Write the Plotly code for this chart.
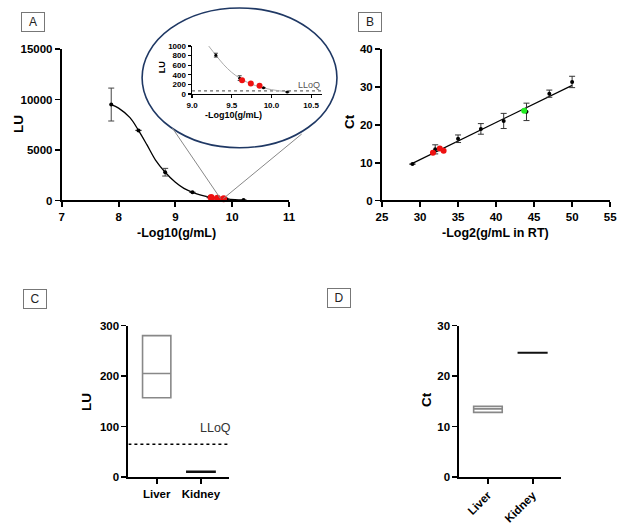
import plotly.graph_objects as go

W, H = 624, 528
FONT = "Arial, Liberation Sans, sans-serif"

# ---------------- Data ----------------
# Panel A main (-Log10 conc vs LU)
a_x = [7.87, 8.35, 8.82, 9.30, 9.60, 9.90, 10.20]
a_y = [9500, 6940, 2800, 810, 330, 130, 40]
a_err_plus = [1630, 0, 380, 0, 50, 0, 0]
a_err_minus = [1630, 0, 380, 0, 50, 0, 0]
a_red_x = [9.63, 9.74, 9.85]
a_red_y = [286, 218, 170]
# fitted curve
a_curve_x = [7.87, 8.0, 8.2, 8.35, 8.5, 8.65, 8.82, 9.0, 9.15, 9.3, 9.45, 9.6, 9.75, 9.9, 10.05, 10.2]
a_curve_y = [9500, 9150, 8200, 6940, 5500, 4000, 2800, 1800, 1200, 810, 520, 330, 215, 135, 80, 45]

# Inset
in_curve_x = [9.21, 9.3, 9.4, 9.5, 9.6, 9.7, 9.8, 9.9, 10.0, 10.1, 10.2]
in_curve_y = [1000, 810, 610, 450, 330, 240, 175, 125, 90, 65, 50]
lloq_lu = 65

# Panel B (-Log2 conc vs Ct)
b_x = [29.0, 32.0, 35.0, 38.0, 41.0, 44.0, 47.0, 50.0]
b_y = [9.6, 13.5, 16.3, 18.9, 21.0, 23.4, 28.2, 31.3]
b_err = [0, 1.2, 1.0, 1.4, 2.0, 2.3, 0.95, 1.5]
b_red_x = [31.7, 32.6, 33.1]
b_red_y = [12.6, 13.7, 13.1]
b_green_x = [43.7]
b_green_y = [23.7]
b_fit_x = [29.0, 50.0]
b_fit_y = [9.8, 30.4]

# Panels C / D
organs = ["Liver", "Kidney"]
c_q1 = [157, 9.5]
c_med = [205, 10.5]
c_q3 = [280, 11.5]
d_q1 = [12.8, 24.55]
d_med = [13.5, 24.6]
d_q3 = [14.0, 24.65]

# ---------------- helpers ----------------
def xd(p0, p1):
    return [p0 / W, p1 / W]

def yd(top, bottom):
    return [1 - bottom / H, 1 - top / H]

def px(x):
    return x / W

def py(y):
    return 1 - y / H

axis_common = dict(showline=True, linecolor="black", linewidth=2, ticks="outside",
                   ticklen=5, tickwidth=1.8, tickcolor="black", showgrid=False,
                   zeroline=False, fixedrange=True, tickformat="d",
                   tickfont=dict(family=FONT, size=11.5, color="black", weight="bold"))

fig = go.Figure()

# ---- Panel A main ----
fig.add_trace(go.Scatter(x=a_curve_x, y=a_curve_y, mode="lines", line=dict(color="black", width=1.3, shape="spline"),
                         xaxis="x", yaxis="y", hoverinfo="skip", cliponaxis=False))
fig.add_trace(go.Scatter(x=a_x, y=a_y, mode="markers", marker=dict(color="black", size=4),
                         error_y=dict(type="data", array=a_err_plus, arrayminus=a_err_minus, color="#444",
                                      thickness=1, width=3),
                         xaxis="x", yaxis="y", cliponaxis=False))
fig.add_trace(go.Scatter(x=a_red_x, y=a_red_y, mode="markers", marker=dict(color="#ee1111", size=7),
                         xaxis="x", yaxis="y", cliponaxis=False))

# ---- Inset ----
fig.add_trace(go.Scatter(x=[9.0, 10.64], y=[lloq_lu, lloq_lu], mode="lines",
                         line=dict(color="#666", width=1.2, dash="dot"), xaxis="x5", yaxis="y5"))
fig.add_trace(go.Scatter(x=in_curve_x, y=in_curve_y, mode="lines", line=dict(color="#aaaaaa", width=1, shape="spline"),
                         xaxis="x5", yaxis="y5", cliponaxis=False))
fig.add_trace(go.Scatter(x=a_x[3:], y=a_y[3:], mode="markers", marker=dict(color="black", size=3),
                         error_y=dict(type="data", array=[40, 50, 0, 0], color="#444", thickness=1, width=2),
                         xaxis="x5", yaxis="y5", cliponaxis=False))
fig.add_trace(go.Scatter(x=a_red_x, y=a_red_y, mode="markers", marker=dict(color="#ee1111", size=6),
                         xaxis="x5", yaxis="y5", cliponaxis=False))

# ---- Panel B ----
fig.add_trace(go.Scatter(x=b_fit_x, y=b_fit_y, mode="lines", line=dict(color="black", width=1.2),
                         xaxis="x2", yaxis="y2"))
fig.add_trace(go.Scatter(x=b_x, y=b_y, mode="markers", marker=dict(color="black", size=4),
                         error_y=dict(type="data", array=b_err, color="#333", thickness=1, width=3),
                         xaxis="x2", yaxis="y2", cliponaxis=False))
fig.add_trace(go.Scatter(x=b_red_x, y=b_red_y, mode="markers", marker=dict(color="#ee1111", size=6),
                         xaxis="x2", yaxis="y2", cliponaxis=False))
fig.add_trace(go.Scatter(x=b_green_x, y=b_green_y, mode="markers", marker=dict(color="#22ee22", size=6),
                         xaxis="x2", yaxis="y2", cliponaxis=False))

# ---- Panel C ----
c_colors = ["#888888", "#111111"]
c_lw = [1.6, 1.5]
for i in range(2):
    fig.add_trace(go.Box(x=[i], q1=[c_q1[i]], median=[c_med[i]], q3=[c_q3[i]],
                         lowerfence=[c_q1[i]], upperfence=[c_q3[i]], width=0.64, whiskerwidth=0,
                         line=dict(color=c_colors[i], width=c_lw[i]), fillcolor="rgba(0,0,0,0)",
                         boxpoints=False, xaxis="x3", yaxis="y3", hoverinfo="skip"))
fig.add_trace(go.Scatter(x=[-0.64, 1.64], y=[lloq_lu, lloq_lu], mode="lines",
                         line=dict(color="black", width=1.5, dash="dot"), xaxis="x3", yaxis="y3"))

# ---- Panel D ----
for i in range(2):
    fig.add_trace(go.Box(x=[i], q1=[d_q1[i]], median=[d_med[i]], q3=[d_q3[i]],
                         lowerfence=[d_q1[i]], upperfence=[d_q3[i]], width=0.64, whiskerwidth=0,
                         line=dict(color=c_colors[i], width=c_lw[i]), fillcolor="rgba(0,0,0,0)",
                         boxpoints=False, xaxis="x4", yaxis="y4", hoverinfo="skip"))

small_tick = dict(family=FONT, size=8, color="black", weight="bold")

layout = dict(
    width=W, height=H, autosize=False, showlegend=False,
    margin=dict(l=0, r=0, t=0, b=0), paper_bgcolor="white", plot_bgcolor="rgba(0,0,0,0)",
    xaxis=dict(axis_common, domain=xd(57, 289), range=[7, 11], dtick=1, anchor="y"),
    yaxis=dict(axis_common, domain=yd(44, 199), range=[0, 15000], dtick=5000, anchor="x"),
    xaxis2=dict(axis_common, domain=xd(384, 617), range=[25, 55], dtick=5, anchor="y2"),
    yaxis2=dict(axis_common, domain=yd(44, 199), range=[0, 40], dtick=10, anchor="x2"),
    xaxis3=dict(axis_common, domain=xd(125, 228), range=[-0.64, 1.64], tickvals=[0, 1], ticktext=organs, anchor="y3"),
    yaxis3=dict(axis_common, domain=yd(327, 482), range=[0, 300], dtick=100, anchor="x3"),
    xaxis4=dict(axis_common, domain=xd(463, 567), range=[-0.64, 1.64], tickvals=[0, 1], ticktext=organs,
                tickangle=-45, anchor="y4"),
    yaxis4=dict(axis_common, domain=yd(327, 482), range=[0, 30], dtick=10, anchor="x4"),
    xaxis5=dict(axis_common, domain=xd(190, 323), range=[9, 10.64], tickvals=[9, 9.5, 10, 10.5],
                ticktext=["9.0", "9.5", "10.0", "10.5"], anchor="y5", linewidth=1.5, ticklen=3,
                tickwidth=1.2, tickfont=small_tick),
    yaxis5=dict(axis_common, domain=yd(41, 90), range=[0, 1000], dtick=200, anchor="x5", linewidth=1.5,
                ticklen=3, tickwidth=1.2, tickfont=small_tick),
)

title_font = dict(family=FONT, size=12.5, color="black", weight="bold")
ann = []
def t(x, y, text, font, angle=0):
    ann.append(dict(x=px(x), y=py(y), xref="paper", yref="paper", text=text, showarrow=False,
                    font=font, textangle=angle, xanchor="center", yanchor="middle"))

t(12, 121, "LU", dict(family=FONT, size=13.5, color="black", weight="bold"), -90)
t(174, 232, "-Log10(g/mL)", title_font)
t(351, 118, "Ct", dict(family=FONT, size=13.5, color="black", weight="bold"), -90)
t(500, 232, "-Log2(g/mL in RT)", title_font)
t(83, 405, "LU", dict(family=FONT, size=13.5, color="black", weight="bold"), -90)
t(430, 403, "Ct", dict(family=FONT, size=13.5, color="black", weight="bold"), -90)
t(159, 63, "LU", dict(family=FONT, size=9, color="black", weight="bold"), -90)
t(232, 112, "-Log10(g/mL)", dict(family=FONT, size=9, color="black", weight="bold"))
t(309.5, 81, "LLoQ", dict(family=FONT, size=9, color="#555"))
t(213.5, 432, "LLoQ", dict(family=FONT, size=12.5, color="#333"))

for lab, cx, cy in [("A", 28, 16), ("B", 372, 16), ("C", 29.5, 300), ("D", 340, 298.5)]:
    ann.append(dict(x=px(cx), y=py(cy), xref="paper", yref="paper", text=lab, showarrow=False,
                    font=dict(family=FONT, size=12, color="#222"), bordercolor="#777", borderwidth=1,
                    width=20, height=16, borderpad=1, bgcolor="white", xanchor="center", yanchor="middle"))
layout["annotations"] = ann

shapes = [
    dict(type="circle", xref="paper", yref="paper", x0=px(139), x1=px(338), y0=py(145), y1=py(2),
         line=dict(color="#1f3864", width=1.6), layer="below"),
    dict(type="line", xref="paper", yref="paper", x0=px(170), y0=py(125), x1=px(219), y1=py(197),
         line=dict(color="#888", width=1)),
    dict(type="line", xref="paper", yref="paper", x0=px(302), y0=py(131), x1=px(222), y1=py(197),
         line=dict(color="#888", width=1)),
]
layout["shapes"] = shapes

fig.update_layout(**layout)
fig.write_html("out.html", config={"displayModeBar": False, "staticPlot": True},
               post_script="document.body.style.margin='0px';document.body.style.overflow='hidden';")
